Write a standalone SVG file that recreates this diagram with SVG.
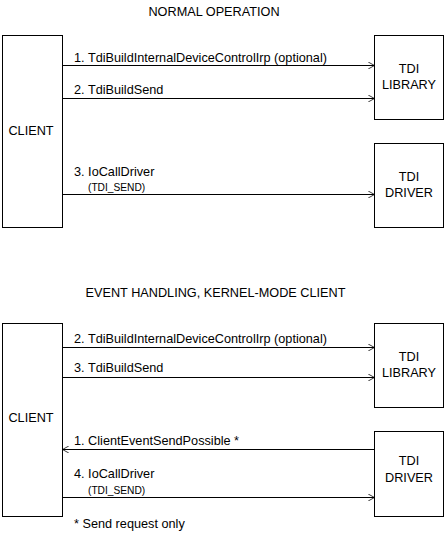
<svg xmlns="http://www.w3.org/2000/svg" width="445" height="535" viewBox="0 0 445 535">
<defs>
<style>
text{font-family:"Liberation Sans",Arial,sans-serif;font-size:12.7px;fill:#000}
.small{font-size:10.2px}
.mid{text-anchor:middle}
.box{fill:#fff;stroke:#000;stroke-width:1}
.ln{stroke:#000;stroke-width:1;fill:none;marker-end:url(#arr)}
</style>
<marker id="arr" viewBox="0 0 10 10" refX="9" refY="5" markerWidth="8" markerHeight="7" markerUnits="userSpaceOnUse" orient="auto">
<path d="M0,0 L9,5 L0,10" fill="none" stroke="#000" stroke-width="1.1"/>
</marker>
</defs>
<rect width="445" height="535" fill="#fff"/>
<text class="mid" x="214" y="16">NORMAL OPERATION</text>
<g id="client1"><rect class="box" x="2.5" y="35.5" width="60" height="192"/><text class="mid" x="31" y="135">CLIENT</text></g>
<g id="lib1"><rect class="box" x="374.5" y="35.5" width="69" height="84"/><text class="mid" x="409" y="73">TDI</text><text class="mid" x="409" y="89">LIBRARY</text></g>
<g id="drv1"><rect class="box" x="374.5" y="143.5" width="69" height="84"/><text class="mid" x="409" y="181">TDI</text><text class="mid" x="409" y="197">DRIVER</text></g>
<g id="connectors1">
<line class="ln" x1="62.5" y1="65.5" x2="374.5" y2="65.5"/>
<text x="74" y="62">1. TdiBuildInternalDeviceControlIrp (optional)</text>
<line class="ln" x1="62.5" y1="98.5" x2="374.5" y2="98.5"/>
<text x="74" y="94">2. TdiBuildSend</text>
<line class="ln" x1="62.5" y1="194.5" x2="374.5" y2="194.5"/>
<text x="74" y="176">3. IoCallDriver</text>
<text class="small" x="88" y="191">(TDI_SEND)</text>
</g>
<text class="mid" x="215.5" y="297">EVENT HANDLING, KERNEL-MODE CLIENT</text>
<g id="client2"><rect class="box" x="2.5" y="323.5" width="60" height="193"/><text class="mid" x="31" y="422">CLIENT</text></g>
<g id="lib2"><rect class="box" x="374.5" y="323.5" width="69" height="84"/><text class="mid" x="409" y="361">TDI</text><text class="mid" x="409" y="377">LIBRARY</text></g>
<g id="drv2"><rect class="box" x="374.5" y="431.5" width="69" height="85"/><text class="mid" x="409" y="465">TDI</text><text class="mid" x="409" y="482">DRIVER</text></g>
<g id="connectors2">
<line class="ln" x1="62.5" y1="347.5" x2="374.5" y2="347.5"/>
<text x="74" y="343">2. TdiBuildInternalDeviceControlIrp (optional)</text>
<line class="ln" x1="62.5" y1="377.5" x2="374.5" y2="377.5"/>
<text x="74" y="372">3. TdiBuildSend</text>
<line class="ln" x1="374.5" y1="449.5" x2="62.5" y2="449.5"/>
<text x="74" y="445">1. ClientEventSendPossible *</text>
<line class="ln" x1="62.5" y1="497.5" x2="374.5" y2="497.5"/>
<text x="74" y="478">4. IoCallDriver</text>
<text class="small" x="88" y="494">(TDI_SEND)</text>
</g>
<text x="74" y="528">* Send request only</text>
</svg>
